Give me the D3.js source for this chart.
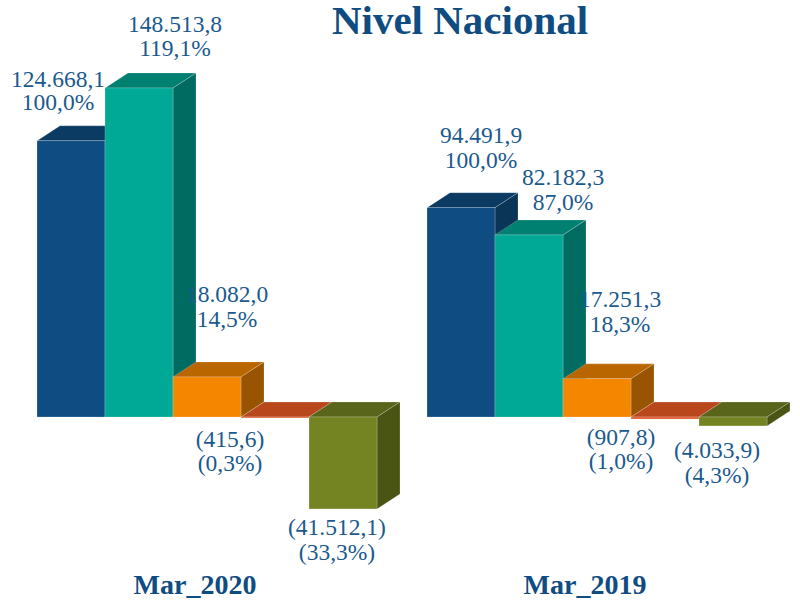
<!DOCTYPE html>
<html><head><meta charset="utf-8">
<script src="https://cdnjs.cloudflare.com/ajax/libs/d3/7.8.5/d3.min.js"></script>
<style>html,body{margin:0;background:#fff}svg{display:block}
text{font-family:"Liberation Serif",serif}</style></head>
<body><svg id="c" width="800" height="600"></svg>
<script>
const title = "Nivel Nacional";
const periods = ["Mar_2020", "Mar_2019"];
const seriesKeys = ["a", "b", "c", "d", "e"];
const values2020 = [124668.1, 148513.8, 18082.0, -415.6, -41512.1];
const values2019 = [94491.9, 82182.3, 17251.3, -907.8, -4033.9];
const amounts2020 = ["124.668,1", "148.513,8", "18.082,0", "(415,6)", "(41.512,1)"];
const amounts2019 = ["94.491,9", "82.182,3", "17.251,3", "(907,8)", "(4.033,9)"];
const shares2020 = ["100,0%", "119,1%", "14,5%", "(0,3%)", "(33,3%)"];
const shares2019 = ["100,0%", "87,0%", "18,3%", "(1,0%)", "(4,3%)"];

const front = ["#0f4c81", "#00a896", "#f58600", "#e2582a", "#748423"];
const topFace = ["#0b3a63", "#008070", "#b96500", "#b8471c", "#58651a"];
const sideFace = ["#0a3557", "#006b60", "#985400", "#9a3c18", "#4a5514"];
const textColor = "#1b5a8e", headColor = "#0f4c81";

// label anchor (centre of first line, baseline) relative to the bar's front-left x / value top
const labelPos = {
  "Mar_2020": [[21, 87, 110], [70, 32, 56], [54, 302, 327], [-11, 447, 471], [28, 535, 560]],
  "Mar_2019": [[54, 143, 168], [68, 185, 210], [57, 307, 332], [-10, 445, 469], [18, 458, 483]]
};
const dx = 23, dy = -15;
const svg = d3.select("#c");
const x0 = d3.scaleBand().domain(periods).range([37, 817]).paddingInner(0).paddingOuter(0);
const bw = 68;
const x1 = d3.scaleBand().domain(seriesKeys).range([0, bw * 5]);
const y = d3.scaleLinear().domain([0, 148513.8]).range([417, 88]);

const groups = [
  {p: periods[0], v: values2020, a: amounts2020, s: shares2020},
  {p: periods[1], v: values2019, a: amounts2019, s: shares2019}
];
const edge = "rgba(255,255,255,0.35)";
const pts = a => a.map(d => d.join(",")).join(" ");

groups.forEach(g => {
  const G = svg.append("g").attr("transform", `translate(${x0(g.p)},0)`);
  seriesKeys.forEach((k, i) => {
    const xl = x1(k), w = x1.bandwidth(), yTop = y(Math.max(0, g.v[i])), yBot = y(Math.min(0, g.v[i]));
    G.append("polygon").attr("points", pts([[xl, yTop], [xl + dx, yTop + dy], [xl + w + dx, yTop + dy], [xl + w, yTop]]))
      .attr("fill", topFace[i]).attr("stroke", edge).attr("stroke-width", .6);
    G.append("polygon").attr("points", pts([[xl + w, yTop], [xl + w + dx, yTop + dy], [xl + w + dx, yBot + dy], [xl + w, yBot]]))
      .attr("fill", sideFace[i]).attr("stroke", edge).attr("stroke-width", .6);
    G.append("rect").attr("x", xl).attr("y", yTop).attr("width", w).attr("height", Math.max(yBot - yTop, 1))
      .attr("fill", front[i]).attr("stroke", edge).attr("stroke-width", .6);
  });
  seriesKeys.forEach((k, i) => {
    const [off, y1, y2] = labelPos[g.p][i], xl = x1(k);
    G.append("text").attr("x", xl + off).attr("y", y1).attr("text-anchor", "middle")
      .attr("font-size", 23.5).attr("fill", textColor).text(g.a[i]);
    G.append("text").attr("x", xl + off).attr("y", y2).attr("text-anchor", "middle")
      .attr("font-size", 23.5).attr("fill", textColor).text(g.s[i]);
  });
  G.append("text").attr("x", 158).attr("y", 594).attr("text-anchor", "middle")
    .attr("font-size", 28).attr("font-weight", "bold").attr("fill", headColor).text(g.p);
});
svg.append("text").attr("x", 460).attr("y", 34).attr("text-anchor", "middle")
  .attr("font-size", 41).attr("font-weight", "bold").attr("fill", headColor).text(title);
</script></body></html>
